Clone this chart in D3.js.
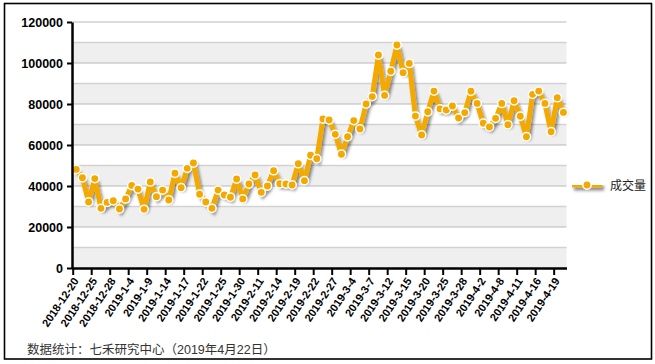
<!DOCTYPE html>
<html>
<head>
<meta charset="utf-8">
<script src="https://cdn.jsdelivr.net/npm/d3@7"></script>
<style>
  body { margin: 0; background: #fff; }
  svg { display: block; font-family: "Liberation Sans", Arial, sans-serif; }
</style>
</head>
<body>
<svg id="chart" width="655" height="364"></svg>
<script>
// trading days, 2018-12-20 .. 2019-4-22
const dates = [
  '2018-12-20','2018-12-21','2018-12-24','2018-12-25','2018-12-26','2018-12-27','2018-12-28',
  '2019-1-2','2019-1-3','2019-1-4','2019-1-7','2019-1-8','2019-1-9','2019-1-10','2019-1-11',
  '2019-1-14','2019-1-15','2019-1-16','2019-1-17','2019-1-18','2019-1-21','2019-1-22','2019-1-23',
  '2019-1-24','2019-1-25','2019-1-28','2019-1-29','2019-1-30','2019-1-31','2019-2-1',
  '2019-2-11','2019-2-12','2019-2-13','2019-2-14','2019-2-15','2019-2-18','2019-2-19','2019-2-20',
  '2019-2-21','2019-2-22','2019-2-25','2019-2-26','2019-2-27','2019-2-28','2019-3-1',
  '2019-3-4','2019-3-5','2019-3-6','2019-3-7','2019-3-8','2019-3-11','2019-3-12','2019-3-13',
  '2019-3-14','2019-3-15','2019-3-18','2019-3-19','2019-3-20','2019-3-21','2019-3-22',
  '2019-3-25','2019-3-26','2019-3-27','2019-3-28','2019-3-29','2019-4-1','2019-4-2','2019-4-3',
  '2019-4-4','2019-4-8','2019-4-9','2019-4-10','2019-4-11','2019-4-12','2019-4-15','2019-4-16',
  '2019-4-17','2019-4-18','2019-4-19','2019-4-22'
]

const volume = [
  48100, 44000, 32200, 43600, 29100, 32000, 32800, 28800, 33700, 40300,
  38500, 28600, 42000, 34800, 38000, 33200, 46200, 39200, 48600, 51200,
  36000, 32200, 29100, 38000, 35600, 34500, 43400, 33700, 41000, 45400,
  36900, 40000, 47500, 41100, 41000, 40500, 50900, 42600, 55000, 53300,
  72700, 72200, 65200, 55500, 64000, 71900, 67800, 80000, 83600, 103900,
  84200, 96000, 108800, 95300, 99800, 74100, 64900, 76200, 86300, 77600,
  77100, 79000, 73200, 75800, 86200, 80300, 70600, 68800, 73000, 80300,
  69900, 81600, 74000, 64000, 84700, 86300, 80300, 66500, 83100, 75900
]

// every third trading day gets a label
const labelDates = dates.filter((d, i) => i % 3 === 0)
const yTicks = [0, 20000, 40000, 60000, 80000, 100000, 120000]
const seriesName = '成交量'
const note = '数据统计：七禾研究中心（2019年4月22日）'

const orange = '#f4a900'
const svg = d3.select('#chart')

const defs = svg.append('defs')
const shadow = defs.append('filter').attr('id', 'shadow')
  .attr('filterUnits', 'userSpaceOnUse')
  .attr('x', 0).attr('y', 0).attr('width', 655).attr('height', 364)
shadow.append('feDropShadow')
  .attr('dx', 2).attr('dy', 3).attr('stdDeviation', 1.6)
  .attr('flood-color', '#000').attr('flood-opacity', 0.45)

// outer frame
svg.append('rect')
  .attr('x', 4.5).attr('y', 3.5).attr('width', 647).attr('height', 355.5)
  .attr('fill', 'none').attr('stroke', '#000').attr('stroke-width', 1.6)

const plotL = 72, plotR = 566.5, plotT = 22, plotB = 268

const x = d3.scaleBand().domain(dates).range([plotL + 1.2, plotR])
const bw = x.bandwidth()
const cx = d => x(d) + bw / 2

const y = d3.scaleLinear().domain([0, 120000]).range([plotB, plotT])

// alternating bands every 10000
const bands = d3.range(0, 120000, 20000)
svg.append('g').selectAll('rect')
  .data(bands)
  .join('rect')
  .attr('x', plotL).attr('width', plotR - plotL)
  .attr('y', d => y(d + 10000)).attr('height', d => y(d) - y(d + 10000))
  .attr('fill', '#efefef')

svg.append('g').selectAll('line')
  .data(d3.range(10000, 120001, 10000))
  .join('line')
  .attr('x1', plotL).attr('x2', plotR)
  .attr('y1', d => y(d)).attr('y2', d => y(d))
  .attr('stroke', d => d % 20000 === 0 ? '#b8b8b8' : '#d2d2d2')
  .attr('stroke-width', d => d % 20000 === 0 ? 1 : 1.4)

// line + markers
const line = d3.line().x((d, i) => cx(dates[i])).y(d => y(d))
const series = svg.append('g').attr('filter', 'url(#shadow)')
series.append('path')
  .datum(volume)
  .attr('d', line)
  .attr('fill', 'none')
  .attr('stroke', orange)
  .attr('stroke-width', 5)
  .attr('stroke-linejoin', 'miter')
  .attr('stroke-miterlimit', 2)

svg.append('g').selectAll('circle')
  .data(volume)
  .join('circle')
  .attr('cx', (d, i) => cx(dates[i]))
  .attr('cy', d => y(d))
  .attr('r', 4.2)
  .attr('fill', orange)
  .attr('stroke', '#fff')
  .attr('stroke-width', 1.5)

// y axis
const yAxis = svg.append('g')
  .attr('transform', `translate(${plotL},0)`)
  .call(d3.axisLeft(y).tickValues(yTicks).tickSize(5).tickSizeOuter(0).tickPadding(4).tickFormat(d3.format('d')))
yAxis.select('.domain').attr('stroke-width', 2.5)
yAxis.selectAll('.tick line').attr('stroke-width', 2)
yAxis.selectAll('.tick text')
  .attr('font-size', 12.5).attr('font-weight', 'bold').attr('fill', '#000')
  .attr('font-family', '"Liberation Sans", Arial, sans-serif')

// x axis: ticks sit on category boundaries, labels on the centres
const xAxis = svg.append('g')
  .attr('transform', `translate(0,${plotB})`)
  .call(d3.axisBottom(x).tickValues(labelDates).tickSize(7).tickSizeOuter(0))
xAxis.select('.domain')
  .attr('d', `M${plotL},0.5H${plotR + 0.5}`)
  .attr('stroke-width', 2.5)
xAxis.selectAll('.tick line')
  .attr('transform', `translate(${-bw / 2},0)`)
  .attr('stroke-width', 2)
xAxis.selectAll('.tick text')
  .attr('font-size', 11).attr('font-weight', 'bold').attr('fill', '#000')
  .attr('font-family', '"Liberation Sans", Arial, sans-serif')
  .attr('text-anchor', 'end')
  .attr('x', 0).attr('y', 0).attr('dy', 0)
  .attr('transform', 'translate(3,13) rotate(-56)')

// legend
const lg = svg.append('g').attr('transform', 'translate(572,185)')
lg.append('path').attr('d', 'M0,0H30')
  .attr('stroke', orange).attr('stroke-width', 5).attr('filter', 'url(#shadow)')
lg.append('circle').attr('cx', 15).attr('cy', 0).attr('r', 4.2)
  .attr('fill', orange).attr('stroke', '#fff').attr('stroke-width', 1.5)
lg.append('text').attr('x', 38).attr('y', 4.5)
  .attr('font-size', 12).attr('fill', '#222')
  .attr('font-family', '"Noto Sans CJK SC", sans-serif')
  .text(seriesName)

// source note
svg.append('text')
  .attr('x', 27).attr('y', 354)
  .attr('font-size', 12.5).attr('fill', '#333')
  .attr('font-family', '"Liberation Sans", "Noto Sans CJK SC", sans-serif')
  .text(note)
</script>
</body>
</html>
